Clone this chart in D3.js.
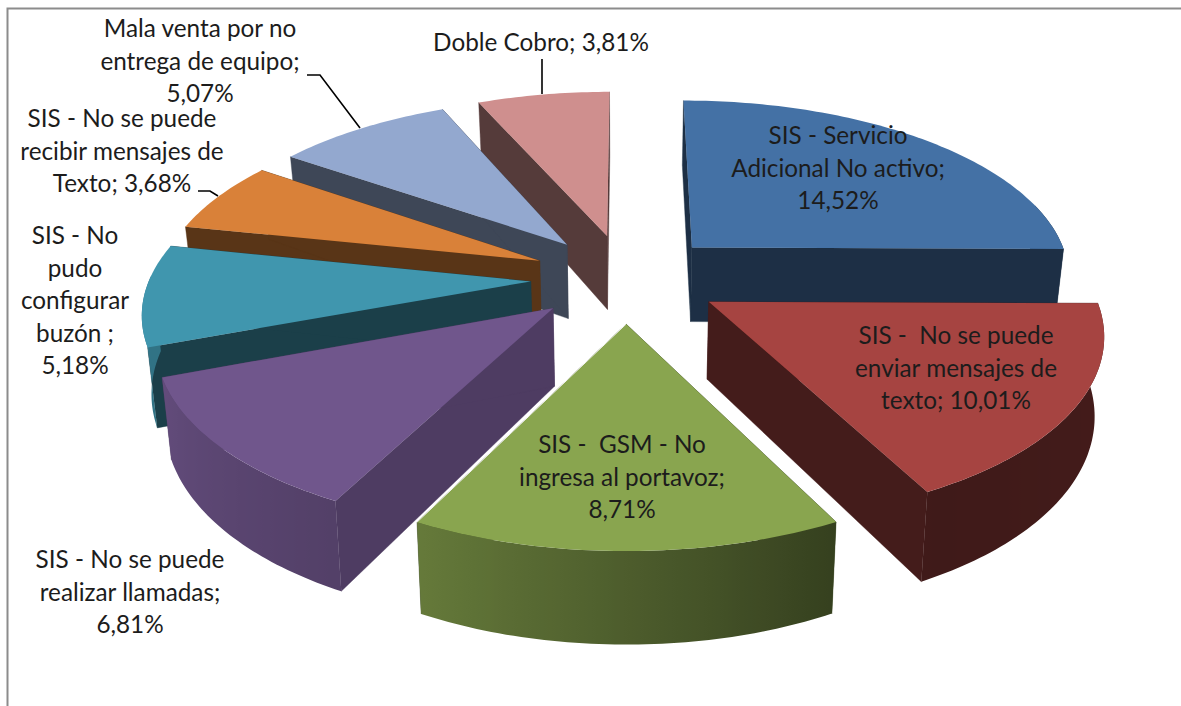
<!DOCTYPE html>
<html><head><meta charset="utf-8">
<script src="https://cdn.jsdelivr.net/npm/d3@7/dist/d3.min.js"></script>
<style>html,body{margin:0;padding:0;background:#fff}svg{display:block}</style>
</head><body><div id="chart"></div>
<script>
// ---- data (in drawing order: clockwise from 12 o'clock) ----
const categories = [
  "SIS - Servicio Adicional No activo",
  "SIS -  No se puede enviar mensajes de texto",
  "SIS -  GSM - No ingresa al portavoz",
  "SIS - No se puede realizar llamadas",
  "SIS - No pudo configurar buzón",
  "SIS - No se puede recibir mensajes de Texto",
  "Mala venta por no entrega de equipo",
  "Doble Cobro"
];
const values = [14.52, 10.01, 8.71, 6.81, 5.18, 3.68, 5.07, 3.81];
const labelLines = [
  ["SIS - Servicio", "Adicional No activo;", "14,52%"],
  ["SIS -  No se puede", "enviar mensajes de", "texto; 10,01%"],
  ["SIS -  GSM - No", "ingresa al portavoz;", "8,71%"],
  ["SIS - No se puede", "realizar llamadas;", "6,81%"],
  ["SIS - No", "pudo", "configurar", "buzón ;", "5,18%"],
  ["SIS - No se puede", "recibir mensajes de", "Texto; 3,68%"],
  ["Mala venta por no", "entrega de equipo;", "5,07%"],
  ["Doble Cobro; 3,81%"]
];
// ---- styles ----
const topColors = ["#4471A5","#A64441","#89A54F","#70568C","#4096AE","#D98139","#93A8CF","#CF8F8E"];
const wallShade = [0.42,0.41,0.41,0.70,0.42,0.41,0.42,0.41];
// ---- layout ----
const labelPlace = [[838,144],[956,344],[622,453],[130,568],[75,244],[122,127],[200,37],[541,51]];
const leaders = [
  [[542,59],[542,94]],
  [[307,75],[320,75],[360,128]],
  [[198,191],[210,191],[218,196]]
];
const W=1181, H=706;
const cam = {cx:626, cy:278, rx:381, ry:177.5, persp:0.15, explode:0.25, depth:76, converge:0.98};

const svg = d3.select("#chart").append("svg").attr("width",W).attr("height",H);
const defs = svg.append("defs");
const rgbScale = (c,k)=>{const r=d3.rgb(c);return d3.rgb(r.r*k,r.g*k,r.b*k).formatHex();};

// ground-plane perspective
function project(u,v,down){
  const s = 1/(1-cam.persp*v);
  const conv = down ? cam.converge : 1;
  return [cam.cx + cam.rx*u*s*conv, cam.cy + cam.ry*v*s + (down?cam.depth*s:0)];
}
const line = d3.line();
const deg = Math.PI/180;
const outerShade = d3.scaleLinear().domain([75,90,152,207,249,285]).range([.42,.42,.38,.74,.88,.7]).clamp(true);

const arcs = d3.pie().sort(null).startAngle(0).endAngle(2*Math.PI)(values);
const slices = arcs.map((a,i)=>{
  const mid=(a.startAngle+a.endAngle)/2;
  return {i,a,ax:cam.explode*Math.sin(mid),ay:-cam.explode*Math.cos(mid)};
});
const apexY = s=>project(s.ax,s.ay,false)[1];
slices.sort((p,q)=>apexY(p)-apexY(q));

function rim(s,t,down){ return project(s.ax+Math.sin(t), s.ay-Math.cos(t), down); }
function arcSamples(a,b,step){
  const n=Math.max(1,Math.ceil((b-a)/step));
  return d3.range(n+1).map(k=>a+(b-a)*k/n);
}

const g = svg.append("g");
slices.forEach(s=>{
  const col=topColors[s.i], ap=project(s.ax,s.ay,false), apD=project(s.ax,s.ay,true);
  const wallCol=rgbScale(col,wallShade[s.i]);
  const sg=g.append("g").attr("class","slice");
  // radial walls
  [s.a.startAngle,s.a.endAngle].forEach(t=>{
    sg.append("path").attr("fill",wallCol).attr("stroke",wallCol).attr("stroke-width",.4)
      .attr("d",line([ap,rim(s,t,false),rim(s,t,true),apD])+"Z");
  });
  // outer wall, shaded by angle through a horizontal gradient
  const lo=Math.max(s.a.startAngle,75*deg), hi=Math.min(s.a.endAngle,272*deg);
  if(hi>lo){
    const ts=arcSamples(lo,hi,1*deg);
    const xs=ts.map(t=>rim(s,t,false)[0]);
    const x0=d3.min(xs), x1=d3.max(xs);
    const id="wall"+s.i;
    const lg=defs.append("linearGradient").attr("id",id).attr("gradientUnits","userSpaceOnUse")
      .attr("x1",x0).attr("x2",x1).attr("y1",0).attr("y2",0);
    const stops=ts.map((t,k)=>({o:(xs[k]-x0)/(x1-x0||1),c:rgbScale(col,outerShade(t/deg))}))
      .sort((p,q)=>p.o-q.o);
    lg.selectAll("stop").data(stops).join("stop").attr("offset",d=>d.o).attr("stop-color",d=>d.c);
    sg.append("path").attr("fill",`url(#${id})`)
      .attr("d",line(ts.map(t=>rim(s,t,false)).concat(ts.slice().reverse().map(t=>rim(s,t,true))))+"Z");
  }
  // top face
  const pts=[ap].concat(arcSamples(s.a.startAngle,s.a.endAngle,1*deg).map(t=>rim(s,t,false)));
  sg.append("path").attr("fill",col).attr("d",line(pts)+"Z");
  // thin highlight where the green face meets the wall behind it
  if(s.i===2){
    sg.append("path").attr("fill","none").attr("stroke","#fff").attr("stroke-width",.9)
      .attr("d",line([ap,rim(s,s.a.endAngle,false)]));
  }
});

// frame
svg.append("path").attr("fill","none").attr("stroke","#8c8c8c").attr("stroke-width",2)
  .attr("d",line([[7.5,H],[7.5,8.5],[W,8.5]]));

// leader lines
svg.selectAll("path.leader").data(leaders).join("path").attr("class","leader")
  .attr("fill","none").attr("stroke","#000").attr("stroke-width",1.6).attr("d",d=>line(d));

// labels
const lineGap=32.6;
const lab=svg.selectAll("text.lab").data(labelLines).join("text").attr("class","lab")
  .attr("font-family","Lato, 'Open Sans', sans-serif").attr("font-size",24.3)
  .attr("fill","#1c1c1c").attr("text-anchor","middle")
  .attr("transform",(d,i)=>`translate(${labelPlace[i][0]},${labelPlace[i][1]})`);
lab.selectAll("tspan").data(d=>d).join("tspan").attr("x",0).attr("y",(d,i)=>i*lineGap)
  .style("white-space","pre").text(d=>d);
</script></body></html>
